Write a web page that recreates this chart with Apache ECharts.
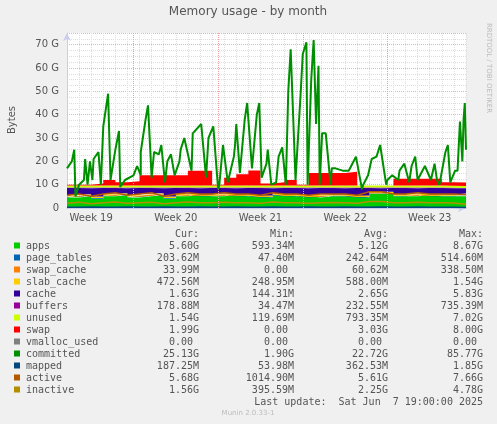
<!DOCTYPE html>
<html><head><meta charset="utf-8">
<script src="https://cdn.jsdelivr.net/npm/echarts@6/dist/echarts.min.js"></script>
<style>html,body{margin:0;padding:0;background:#f0f0f0}#c{width:497px;height:424px}</style>
</head><body><div id="c"></div>
<script>
const weekLabels=['Week 19','Week 20','Week 21','Week 22','Week 23'];
const weekCenters=[2,9,16,23,30];
const weekBounds=[5.5,12.5,19.5,26.5];
const days=[0,1,2,3,4,5,6,7,8,9,10,11,12,13,14,15,16,17,18,19,20,21,22,23,24,25,26,27,28,29,30,31,32,33];
const apps=[4.5,5,4,5,5.5,4.5,5,5.5,4,5,5.5,5,5,5.5,5,5,4.5,5.5,5,5,4.5,5,5,5,4.5,6,6,5,5,5.5,5,5,5,5.5];
const pageTables=[0.25,0.25,0.25,0.24,0.24,0.25,0.25,0.24,0.24,0.25,0.25,0.24,0.24,0.25,0.25,0.24,0.24,0.25,0.25,0.24,0.24,0.25,0.25,0.24,0.24,0.25,0.25,0.24,0.24,0.25,0.25,0.24,0.24,0.2];
const swapCache=[0.05,0.06,0.08,0.05,0.06,0.07,0.05,0.06,0.08,0.05,0.06,0.07,0.05,0.06,0.08,0.05,0.06,0.07,0.05,0.06,0.08,0.05,0.06,0.07,0.05,0.06,0.08,0.05,0.06,0.07,0.05,0.06,0.05,0.03];
const slabCache=[0.6,0.55,0.6,0.65,0.55,0.6,0.6,0.55,0.6,0.65,0.55,0.6,0.6,0.55,0.6,0.65,0.55,0.6,0.6,0.55,0.6,0.65,0.55,0.6,0.6,0.55,0.6,0.65,0.55,0.6,0.6,0.55,0.5,0.47];
const cache=[3.15,2.65,3.65,2.65,2.15,3.15,2.65,2.15,3.65,2.65,2.15,2.65,2.65,2.15,2.65,2.65,3.15,2.15,2.65,2.65,3.15,2.65,2.65,2.65,3.15,1.65,1.65,2.65,2.65,2.15,2.65,2.65,2.65,2.15];
const buffers=[0.2,0.25,0.2,0.22,0.25,0.2,0.22,0.25,0.2,0.22,0.25,0.2,0.22,0.25,0.2,0.22,0.25,0.2,0.22,0.25,0.2,0.22,0.25,0.2,0.22,0.25,0.2,0.22,0.25,0.2,0.22,0.25,0.2,0.18];
const unused=[0.85,0.84,0.82,0.84,0.85,0.83,0.83,0.85,0.83,0.83,0.84,0.84,0.84,0.84,0.82,0.84,0.85,0.83,0.83,0.85,0.83,0.83,0.84,0.84,0.84,0.84,0.81,0.84,0.85,0.83,0.83,0.85,0.86,0.9];
const swap=[0.4,0.4,0.9,2.4,1.4,1.9,4.4,4.4,4.4,4.4,6.4,6.4,0.4,3.4,4.9,6.4,0.9,1.4,2.4,0.4,5.4,5.4,5.4,5.9,0,0,0,2.9,2.9,2.9,2.9,1.4,1.4,4.4];
const mapped=[0.3,0.35,0.4,0.3,0.35,0.4,0.3,0.35,0.4,0.3,0.35,0.4,0.3,0.35,0.4,0.3,0.35,0.4,0.3,0.35,0.4,0.3,0.35,0.4,0.3,0.35,0.4,0.3,0.35,0.4,0.3,0.35,0.3,0.19];
const active=[5.5,6,5,6,6.5,5.5,6,6.5,5,6,6.5,6,6,6.5,6,6,5.5,6.5,6,6,5.5,6,6,6,5.5,7,7,6,6,6.5,6,6,6,5.7];
const inactive=[2,2.5,1.8,2.2,2.6,2,2.3,2.5,1.8,2.2,2.6,2.3,2.2,2.5,2.2,2.3,2,2.6,2.2,2.3,2,2.2,2.4,2.3,2,2.8,2.8,2.3,2.2,2.5,2.2,2.2,2.1,1.6];
const commitDay=[0,0.4,0.6,0.7,1,1.4,1.5,1.7,1.9,2.1,2.2,2.6,2.8,3,3.4,3.6,4,4.3,4.4,4.8,5.5,5.8,6.1,6.1,6.5,6.7,7.0,7.2,7.6,7.8,8.1,8.3,8.3,8.6,8.9,9.3,9.4,9.7,10.3,10.4,11.1,11.5,11.7,12.1,12.5,12.6,12.9,13.3,13.8,13.9,14.0,14.3,14.7,14.9,15.3,15.7,15.9,16.1,16.5,16.6,16.9,17.3,17.5,17.8,18.1,18.3,18.5,18.9,19.3,19.5,19.8,19.9,20.2,20.4,20.6,20.8,20.9,21.1,21.4,21.8,21.9,22.2,22.8,23.3,23.9,24.4,24.5,24.9,25.2,25.6,25.9,26.4,26.5,26.9,27.4,27.5,27.9,28.3,28.5,28.8,29.0,29.6,29.7,30.1,30.4,30.6,30.8,31.3,31.5,31.7,32.1,32.3,32.5,32.7,32.8,32.9,33];
const commitVal=[17,20,25,5,10,12,21,10,20,12,21,24,10,35,49,12,25,33,9,12,14,18,14,24,38,44,13,24,23,27,11,20,20,23,14,20,25,30,16,32,36,13,30,35,8,10,27,11,22,27,36,15,38,45,17,40,45,13,19,25,10,11,22,26,10,50,68,12,47,66,71,10,55,72,36,61,10,32,32,10,17,17,16,16,22,8,10,14,21,22,27,10,12,14,12,16,19,11,18,22,12,18,18,12,19,12,10,24,27,11,16,16,37,20,38,45,25];
const names=['apps','page_tables','swap_cache','slab_cache','cache','buffers','unused','swap','vmalloc_used','committed','mapped','active','inactive'];
const colors=['#00cc00','#0066b3','#ff8000','#ffcc00','#330099','#990099','#ccff00','#ff0000','#808080','#008f00','#00487d','#b35a00','#b38f00'];
const curs=['5.60G','203.62M','33.99M','472.56M','1.63G','178.88M','1.54G','1.99G','0.00 ','25.13G','187.25M','5.68G','1.56G'];
const mins=['593.34M','47.40M','0.00 ','248.95M','144.31M','34.47M','119.69M','0.00 ','0.00 ','1.90G','53.98M','1014.90M','395.59M'];
const avgs=['5.12G','242.64M','60.62M','588.00M','2.65G','232.55M','793.35M','3.03G','0.00 ','22.72G','362.53M','5.61G','2.25G'];
const maxs=['8.67G','514.60M','338.50M','1.54G','5.83G','735.39M','7.02G','8.00G','0.00 ','85.77G','1.85G','7.66G','4.78G'];

const stackData=[apps,pageTables,swapCache,slabCache,cache,buffers,unused,swap];
const series=stackData.map((arr,i)=>({name:names[i],type:'line',stack:'mem',step:'end',symbol:'none',xAxisIndex:1,
  data:arr,lineStyle:{width:0},areaStyle:{color:colors[i],opacity:1},itemStyle:{color:colors[i]},z:2}));
series.push({name:'committed',type:'line',symbol:'none',xAxisIndex:0,data:commitDay.map((x,i)=>[x,commitVal[i]]),lineStyle:{color:colors[9],width:2},z:5,
  markLine:{symbol:'none',silent:true,label:{show:false},lineStyle:{color:'#e8a0a0',type:'dotted',width:1},data:weekBounds.map(v=>({xAxis:v}))}});
[[mapped,10],[active,11],[inactive,12]].forEach(([arr,i])=>series.push({name:names[i],type:'line',symbol:'none',xAxisIndex:1,data:arr,lineStyle:{color:colors[i],width:1.5},z:4}));

const mono='DejaVu Sans Mono';
const g=[];
const colX=[199,294,388,483];
['Cur:','Min:','Avg:','Max:'].forEach((h,j)=>g.push({type:'text',x:colX[j],y:234,style:{text:h,font:'10px '+mono,fill:'#555',align:'right',verticalAlign:'middle'}}));
names.forEach((n,i)=>{
  const y=246+i*12;
  g.push({type:'rect',shape:{x:14,y:y-3.5,width:6,height:6},style:{fill:colors[i]}});
  g.push({type:'text',x:26,y:y,style:{text:n,font:'10px '+mono,fill:'#555',verticalAlign:'middle'}});
  [curs,mins,avgs,maxs].forEach((a,j)=>g.push({type:'text',x:colX[j],y:y,style:{text:a[i],font:'10px '+mono,fill:'#555',align:'right',verticalAlign:'middle'}}));
});
g.push({type:'text',x:483,y:402,style:{text:'Last update:  Sat Jun  7 19:00:00 2025',font:'10px '+mono,fill:'#555',align:'right',verticalAlign:'middle'}});
g.push({type:'text',x:248,y:413,style:{text:'Munin 2.0.33-1',font:'7px DejaVu Sans',fill:'#bbb',align:'center',verticalAlign:'middle'}});
g.push({type:'text',x:248,y:12,style:{text:'Memory usage - by month',font:'12px DejaVu Sans',fill:'#555',align:'center',verticalAlign:'middle'}});
g.push({type:'text',x:12,y:120,rotation:Math.PI/2,style:{text:'Bytes',font:'10px DejaVu Sans',fill:'#555',align:'center',verticalAlign:'middle'}});
g.push({type:'text',x:489,y:68,rotation:-Math.PI/2,style:{text:'RRDTOOL / TOBI OETIKER',font:'7px DejaVu Sans',fill:'#bbb',align:'center',verticalAlign:'middle'}});

const chart=echarts.init(document.getElementById('c'));
chart.setOption({
  backgroundColor:'#f0f0f0',animation:false,
  grid:{left:67,right:31,top:33,bottom:216,backgroundColor:'#fff',show:true,borderWidth:0},
  xAxis:[{type:'value',min:0,max:33,interval:1,
    axisLine:{lineStyle:{color:'#ccccee'},symbol:['none','arrow'],symbolSize:[6,8]},
    axisTick:{show:false},
    axisLabel:{customValues:weekCenters,formatter:v=>weekLabels[weekCenters.indexOf(v)],color:'#555',fontSize:10,fontFamily:'DejaVu Sans',margin:5},
    splitLine:{show:true,lineStyle:{color:'#dddddd',type:'dotted'}}},
   {type:'category',data:days,boundaryGap:false,show:false}],
  yAxis:{type:'value',min:0,max:75,interval:10,
    axisLine:{show:true,lineStyle:{color:'#ccccee'},symbol:['none','arrow'],symbolSize:[6,8]},
    axisTick:{show:false},
    axisLabel:{formatter:v=>v===0?'0':(v%10===0?v+' G':''),color:'#555',fontSize:10,fontFamily:'DejaVu Sans'},
    splitLine:{lineStyle:{color:'#f0b0b0',type:'dotted'}},
    minorTick:{show:false,splitNumber:4},
    minorSplitLine:{show:true,lineStyle:{color:'#dddddd',type:'dotted'}}},
  series:series,
  graphic:g
});
</script></body></html>
